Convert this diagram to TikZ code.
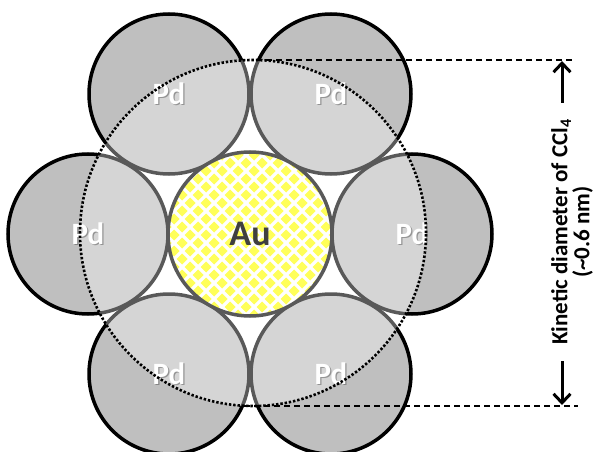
\documentclass[tikz,border=0pt]{standalone}
\usepackage{fontspec}
\setmainfont{Carlito}
\usetikzlibrary{arrows.meta}
\definecolor{pdfill}{HTML}{BFBFBF}
\definecolor{auyellow}{HTML}{FFFF00}
\definecolor{autext}{HTML}{404040}
\begin{document}
\begin{tikzpicture}[x=1pt,y=-1pt,
  pdatom/.style={circle, minimum size=160pt, inner sep=0pt, fill=pdfill, draw=black, line width=3.5pt},
  auatom/.style={circle, minimum size=164pt, inner sep=0pt, draw=black, line width=3.5pt},
  pdlabel/.style={text=white, font=\bfseries\fontsize{31}{31}\selectfont, inner sep=0pt},
  pdshade/.style={text=black, opacity=0.3, font=\bfseries\fontsize{31}{31}\selectfont, inner sep=0pt},
  aulabel/.style={text=autext, font=\bfseries\fontsize{36}{36}\selectfont, inner sep=0pt},
  rim/.style={draw=black, line width=2.6pt, dash pattern=on 2.4pt off 1.9pt},
  guide/.style={draw=black, line width=1.2pt, dash pattern=on 6pt off 4pt},
  dimarrow/.style={draw=black, line width=3pt, -{Straight Barb[length=9pt, width=17pt, line width=3pt]}},
  dimtext/.style={rotate=90, align=center, inner sep=0pt}
]
\useasboundingbox (0,0) rectangle (595,452);

% palladium shell
\node[pdatom] (pdL)  at (88,234)  {};
\node[pdatom] (pdR)  at (412,234) {};
\node[pdatom] (pdTL) at (169,94)  {};
\node[pdatom] (pdTR) at (331,94)  {};
\node[pdatom] (pdBL) at (169,374) {};
\node[pdatom] (pdBR) at (331,374) {};

% gold core with diamond pattern
\node[circle, minimum size=164pt, inner sep=0pt, fill=white] (aufill) at (250,234) {};
\begin{scope}
  \clip (250,234) circle[radius=82pt];
  \foreach \i in {-5,...,6} {
    \foreach \j in {-2,...,10} {
      \fill[auyellow, shift={(230+16*\i,163+16*\j)}] (0,-5.5) -- (5.5,0) -- (0,5.5) -- (-5.5,0) -- cycle;
      \fill[auyellow, shift={(238+16*\i,171+16*\j)}] (0,-5.5) -- (5.5,0) -- (0,5.5) -- (-5.5,0) -- cycle;
    }
  }
\end{scope}
\node[auatom] (au) at (250,234) {};

% kinetic-diameter sphere: light veil over the enclosed region
\coordinate (rimc) at (253,233);
\fill[white, opacity=0.35] (rimc) circle[radius=173pt];

% labels, each with a soft drop shade
\foreach \n in {pdL,pdR,pdTL,pdTR,pdBL,pdBR} {
  \node[pdshade] at ([shift={(1.2,1.2)}]\n.center) {Pd};
  \node[pdlabel] (lbl\n) at (\n.center) {Pd};
}
\node[aulabel] (aulbl) at (au.center) {Au};

% sphere outline
\draw[rim] (rimc) circle[radius=173pt];

% dimension guides
\coordinate (gTa) at (256,60);
\coordinate (gTb) at (575,60);
\coordinate (gBa) at (244,406);
\coordinate (gBb) at (578,406);
\draw[guide] (gTa) -- (gTb);
\draw[guide] (gBa) -- (gBb);

\coordinate (aTs) at (562,103);
\coordinate (aTe) at (562,61);
\coordinate (aBs) at (562,361);
\coordinate (aBe) at (562,405);
\draw[dimarrow] (aTs) -- (aTe);
\draw[dimarrow] (aBs) -- (aBe);

\node[dimtext] (kd) at (572,232) {\bfseries\fontsize{23}{22}\selectfont Kinetic diameter of CCl\textsubscript{4}\\\bfseries\fontsize{23}{22}\selectfont(\textasciitilde0.6 nm)};
\end{tikzpicture}
\end{document}
